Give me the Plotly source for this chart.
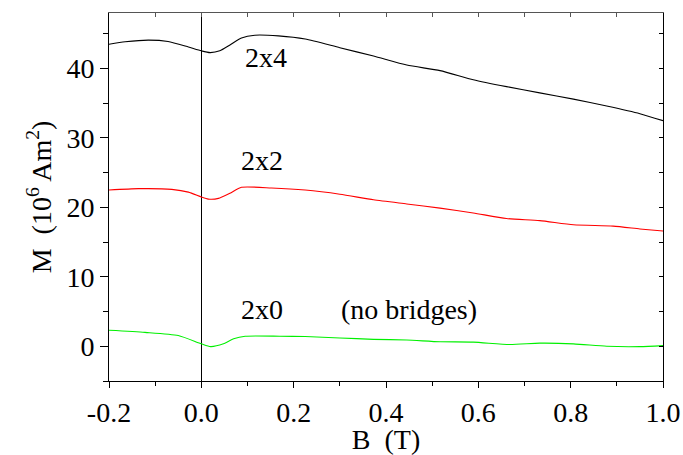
import plotly.graph_objects as go

# 2x4 (black)
x_24 = [-0.2, -0.165, -0.115, -0.072, -0.028, 0.0, 0.019, 0.04, 0.062, 0.087, 0.116, 0.167, 0.225,
        0.3, 0.373, 0.445, 0.517, 0.589, 0.661, 0.733, 0.806, 0.878, 0.95, 1.0]
m_24 = [43.5, 43.85, 44.1, 43.9, 43.1, 42.55, 42.3, 42.55, 43.4, 44.4, 44.8, 44.7, 44.25,
        43.0, 41.8, 40.5, 39.7, 38.4, 37.4, 36.5, 35.6, 34.6, 33.5, 32.5]

# 2x2 (red)
x_22 = [-0.2, -0.136, -0.064, -0.028, 0.0, 0.015, 0.037, 0.062, 0.087, 0.152, 0.225,
        0.3, 0.373, 0.445, 0.517, 0.589, 0.661, 0.733, 0.806, 0.892, 0.95, 1.0]
m_22 = [22.5, 22.7, 22.6, 22.2, 21.5, 21.2, 21.3, 22.05, 22.9, 22.8, 22.5,
        21.9, 21.1, 20.5, 19.9, 19.2, 18.4, 18.1, 17.5, 17.3, 16.9, 16.6]

# 2x0 (green, no bridges)
x_20 = [-0.2, -0.122, -0.05, 0.0, 0.02, 0.048, 0.07, 0.095, 0.17, 0.225,
        0.3, 0.373, 0.445, 0.517, 0.589, 0.668, 0.733, 0.806, 0.878, 0.95, 1.0]
m_20 = [2.3, 2.0, 1.55, 0.35, -0.05, 0.35, 1.07, 1.45, 1.45, 1.4,
        1.2, 1.0, 0.9, 0.65, 0.6, 0.25, 0.45, 0.35, 0.0, -0.05, 0.1]

x_tickvals = [-0.2, 0.0, 0.2, 0.4, 0.6, 0.8, 1.0]
x_ticktext = ["-0.2", "0.0", "0.2", "0.4", "0.6", "0.8", "1.0"]
y_tickvals = [0, 10, 20, 30, 40]
y_ticktext = ["0", "10", "20", "30", "40"]

labels = ["2x4", "2x2", "2x0", "(no bridges)"]
label_x = [0.14, 0.132, 0.132, 0.45]
label_y = [41.6, 26.7, 5.3, 5.3]

FONT = "Liberation Serif, Times New Roman, serif"
FS = 28

fig = go.Figure()
fig.add_trace(go.Scatter(x=x_24, y=m_24, mode="lines", line=dict(color="#000000", width=1.1, shape="spline", smoothing=0.6), showlegend=False))
fig.add_trace(go.Scatter(x=x_22, y=m_22, mode="lines", line=dict(color="#ff0000", width=1.1, shape="spline", smoothing=0.6), showlegend=False))
fig.add_trace(go.Scatter(x=x_20, y=m_20, mode="lines", line=dict(color="#00f000", width=1.1, shape="spline", smoothing=0.6), showlegend=False))
# invisible trace to anchor the mirrored top/right axes
fig.add_trace(go.Scatter(x=x_24, y=m_24, xaxis="x2", yaxis="y2", mode="lines",
                         line=dict(width=0), opacity=0, showlegend=False, hoverinfo="skip"))

for t, xx, yy in zip(labels, label_x, label_y):
    fig.add_annotation(x=xx, y=yy, text=t, showarrow=False,
                       font=dict(family=FONT, size=FS, color="black"))

xr = [-0.2, 1.0]
yr = [-5, 48]

fig.update_layout(
    width=683, height=455,
    margin=dict(l=109, r=20, t=13, b=74),
    paper_bgcolor="white", plot_bgcolor="white",
    font=dict(family=FONT, size=FS, color="black"),
    xaxis=dict(range=xr, tickvals=x_tickvals, ticktext=x_ticktext, automargin=False,
               ticks="outside", ticklen=6, tickwidth=1, tickcolor="black",
               minor=dict(dtick=0.1, tick0=0, ticks="outside", ticklen=4, tickcolor="black"),
               showline=True, linecolor="black", linewidth=1,
               showgrid=False, zeroline=True, zerolinecolor="black", zerolinewidth=1,
               title=dict(text="B  (T)", font=dict(family=FONT, size=FS), standoff=0)),
    yaxis=dict(range=yr, tickvals=y_tickvals, ticktext=y_ticktext, automargin=False,
               ticks="outside", ticklen=8, tickwidth=1, tickcolor="black",
               minor=dict(dtick=5, tick0=0, ticks="outside", ticklen=5, tickcolor="black"),
               showline=True, linecolor="black", linewidth=1,
               showgrid=False, zeroline=False,
               title=dict(text="M  (10<sup>6</sup> Am<sup>2</sup>)", font=dict(family=FONT, size=FS), standoff=6)),
    xaxis2=dict(range=xr, overlaying="x", side="top", matches="x", dtick=0.1, tick0=0, automargin=False,
                ticks="inside", ticklen=4, tickcolor="#555", showticklabels=False,
                showline=True, linecolor="#555", linewidth=1, showgrid=False, zeroline=False),
    yaxis2=dict(range=yr, overlaying="y", side="right", anchor="x2", dtick=5, tick0=0, automargin=False,
                ticks="inside", ticklen=4, tickcolor="black", showticklabels=False,
                showline=True, linecolor="black", linewidth=1, showgrid=False, zeroline=False),
)

fig.write_html("out.html")
